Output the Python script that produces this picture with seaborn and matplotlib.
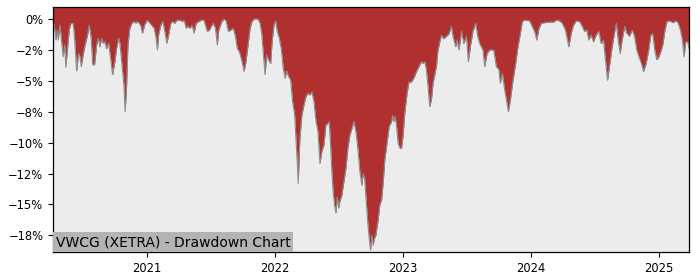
import matplotlib
matplotlib.use("Agg")
import matplotlib.pyplot as plt
import matplotlib.dates as mdates
import matplotlib.ticker as mticker
import seaborn as sns
import pandas as pd

# decimal-year time stamps
years = [
    2020.266, 2020.273, 2020.281, 2020.289, 2020.299, 2020.307, 2020.320, 2020.336, 2020.346, 2020.357,
    2020.367, 2020.377, 2020.393, 2020.404, 2020.424, 2020.435, 2020.451, 2020.466, 2020.477, 2020.487,
    2020.502, 2020.518, 2020.534, 2020.549, 2020.565, 2020.576, 2020.591, 2020.607, 2020.620, 2020.633,
    2020.646, 2020.659, 2020.672, 2020.685, 2020.701, 2020.716, 2020.732, 2020.750, 2020.763, 2020.779,
    2020.789, 2020.805, 2020.820, 2020.830, 2020.841, 2020.852, 2020.867, 2020.883, 2020.898, 2020.914,
    2020.924, 2020.940, 2020.951, 2020.966, 2020.982, 2021.002, 2021.023, 2021.039, 2021.055, 2021.070,
    2021.080, 2021.091, 2021.107, 2021.123, 2021.138, 2021.154, 2021.170, 2021.185, 2021.201, 2021.216,
    2021.232, 2021.258, 2021.273, 2021.289, 2021.305, 2021.320, 2021.336, 2021.352, 2021.367, 2021.383,
    2021.404, 2021.424, 2021.445, 2021.455, 2021.471, 2021.487, 2021.502, 2021.518, 2021.534, 2021.549,
    2021.560, 2021.565, 2021.584, 2021.602, 2021.617, 2021.635, 2021.654, 2021.674, 2021.690, 2021.705,
    2021.721, 2021.732, 2021.742, 2021.758, 2021.773, 2021.789, 2021.805, 2021.820, 2021.836, 2021.867,
    2021.883, 2021.896, 2021.909, 2021.922, 2021.935, 2021.948, 2021.966, 2021.977, 2021.992, 2022.005,
    2022.018, 2022.034, 2022.049, 2022.065, 2022.080, 2022.091, 2022.107, 2022.123, 2022.138, 2022.154,
    2022.164, 2022.174, 2022.182, 2022.195, 2022.211, 2022.227, 2022.242, 2022.258, 2022.273, 2022.289,
    2022.305, 2022.320, 2022.336, 2022.352, 2022.367, 2022.383, 2022.398, 2022.414, 2022.424, 2022.435,
    2022.445, 2022.455, 2022.466, 2022.477, 2022.487, 2022.498, 2022.508, 2022.523, 2022.539, 2022.555,
    2022.570, 2022.586, 2022.602, 2022.617, 2022.633, 2022.648, 2022.664, 2022.680, 2022.690, 2022.701,
    2022.716, 2022.727, 2022.737, 2022.748, 2022.758, 2022.768, 2022.779, 2022.789, 2022.805, 2022.820,
    2022.834, 2022.846, 2022.859, 2022.873, 2022.893, 2022.912, 2022.920, 2022.930, 2022.940, 2022.951,
    2022.963, 2022.977, 2022.990, 2023.002, 2023.016, 2023.034, 2023.049, 2023.068, 2023.086, 2023.107,
    2023.127, 2023.146, 2023.159, 2023.172, 2023.185, 2023.198, 2023.211, 2023.224, 2023.237, 2023.263,
    2023.276, 2023.302, 2023.320, 2023.341, 2023.362, 2023.380, 2023.393, 2023.414, 2023.424, 2023.440,
    2023.459, 2023.477, 2023.498, 2023.513, 2023.529, 2023.549, 2023.570, 2023.586, 2023.602, 2023.627,
    2023.641, 2023.659, 2023.680, 2023.711, 2023.732, 2023.752, 2023.763, 2023.779, 2023.797, 2023.815,
    2023.826, 2023.841, 2023.862, 2023.883, 2023.901, 2023.920, 2023.935, 2023.953, 2023.992, 2024.013,
    2024.031, 2024.049, 2024.065, 2024.084, 2024.109, 2024.148, 2024.180, 2024.201, 2024.227, 2024.248,
    2024.273, 2024.299, 2024.318, 2024.336, 2024.357, 2024.383, 2024.404, 2024.422, 2024.440, 2024.455,
    2024.474, 2024.492, 2024.513, 2024.534, 2024.552, 2024.570, 2024.586, 2024.602, 2024.617, 2024.638,
    2024.656, 2024.670, 2024.685, 2024.701, 2024.716, 2024.737, 2024.752, 2024.773, 2024.795, 2024.813,
    2024.830, 2024.852, 2024.867, 2024.883, 2024.904, 2024.924, 2024.940, 2024.955, 2024.971, 2024.987,
    2025.002, 2025.021, 2025.034, 2025.047, 2025.065, 2025.086, 2025.112, 2025.133, 2025.151, 2025.170,
    2025.185, 2025.198, 2025.211, 2025.227, 2025.237,
]

# drawdown in percent
drawdown = [
    -0.3, -0.35, -1.0, -1.7, -0.9, -1.7, -0.5, -2.1, -3.05, -2.1,
    -3.9, -2.65, -0.9, -0.4, -0.35, -1.6, -4.2, -2.8, -3.05, -3.85,
    -2.9, -2.05, -1.4, -0.5, -1.55, -3.7, -3.7, -2.1, -1.55, -2.25,
    -1.55, -1.97, -1.85, -2.4, -1.97, -3.2, -4.5, -3.45, -2.4, -1.55,
    -1.97, -3.7, -5.3, -7.5, -5.6, -2.1, -0.75, -0.35, -0.2, -0.35,
    -0.2, -0.35, -0.5, -1.15, -0.5, -0.1, -0.35, -0.55, -0.75, -1.55,
    -2.5, -1.2, -0.5, -0.2, -1.0, -1.97, -1.2, -0.35, -0.2, -0.35,
    -0.1, -0.1, -0.2, -0.1, -0.75, -0.6, -0.75, -0.5, -1.15, -0.35,
    -0.2, -0.1, -0.1, -0.5, -1.0, -0.9, -0.6, -0.35, -0.75, -2.1,
    -0.9, -0.75, -0.2, 0.0, -0.15, -1.0, -0.9, -0.75, -1.4, -2.4,
    -2.65, -3.05, -3.45, -4.25, -3.45, -2.1, -0.75, -0.2, 0.0, 0.0,
    -0.35, -1.2, -2.9, -4.5, -2.9, -3.3, -3.6, -1.85, -0.5, -0.15,
    -1.0, -1.55, -2.4, -4.0, -4.8, -4.2, -4.65, -4.95, -6.7, -7.75,
    -9.65, -11.5, -13.3, -9.65, -7.75, -6.95, -6.3, -6.0, -6.15, -5.9,
    -6.7, -8.2, -9.1, -11.7, -10.7, -10.2, -8.6, -8.45, -8.3, -10.2,
    -12.35, -14.0, -15.05, -15.7, -14.4, -15.3, -14.75, -14.25, -13.15, -12.1,
    -10.45, -9.4, -8.85, -8.3, -9.1, -10.45, -12.35, -13.45, -12.5, -12.9,
    -15.05, -16.65, -17.75, -18.7, -17.5, -18.3, -17.75, -17.5, -16.4, -15.05,
    -14.6, -13.3, -11.4, -10.3, -8.7, -8.3, -7.8, -8.3, -7.9, -8.7,
    -10.05, -10.45, -10.45, -9.5, -7.6, -6.0, -5.1, -5.1, -4.8, -4.25,
    -3.85, -3.45, -3.6, -3.45, -4.1, -5.5, -7.1, -6.55, -5.2, -3.85,
    -2.5, -1.3, -1.6, -1.4, -1.2, -0.6, -1.4, -2.25, -1.7, -2.5,
    -1.0, -2.0, -1.4, -3.45, -2.2, -1.0, -0.35, -1.4, -2.0, -2.5,
    -3.85, -2.8, -2.5, -2.5, -3.85, -4.1, -5.2, -4.4, -5.75, -6.8,
    -7.5, -6.6, -4.95, -3.6, -2.25, -1.15, -0.2, -0.1, -0.15, -0.6,
    -1.0, -1.7, -0.8, -0.35, -0.3, -0.25, -0.25, -0.1, -0.15, -0.35,
    -0.9, -2.25, -1.15, -0.5, -0.15, -0.2, -0.6, -1.0, -0.9, -1.7,
    -1.3, -1.85, -1.3, -1.0, -2.0, -1.7, -3.3, -4.95, -3.85, -2.25,
    -1.15, -0.35, -1.7, -2.8, -1.7, -0.6, -1.15, -1.4, -0.9, -1.4,
    -2.5, -3.2, -3.6, -4.25, -3.6, -2.5, -1.3, -1.2, -2.5, -3.3,
    -3.05, -2.5, -2.0, -1.0, -0.2, -0.15, -0.3, -0.15, -0.3, -0.9,
    -1.7, -3.05, -1.85, -1.85, -2.4,
]

title_text = "VWCG (XETRA) - Drawdown Chart"


def to_date(y):
    base = pd.Timestamp(int(y), 1, 1)
    return base + pd.Timedelta(days=(y - int(y)) * 365.25)


df = pd.DataFrame({"date": [to_date(y) for y in years], "dd": drawdown})

fig = plt.figure(figsize=(7, 2.8), dpi=100)
ax = fig.add_axes([0.0757, 0.1, 0.9086, 0.875])
ax.set_facecolor("#ececec")

y_top, y_bottom = 0.97, -18.85
ax.fill_between(df["date"], df["dd"], y_top, color="#b03030", linewidth=0)
sns.lineplot(data=df, x="date", y="dd", ax=ax, color="#8c8c8c", linewidth=0.8, sort=False)

ax.set_ylim(y_bottom, y_top)
ax.set_xlim(df["date"].iloc[0], df["date"].iloc[-1])
ax.set_xlabel("")
ax.set_ylabel("")

ax.yaxis.set_major_locator(mticker.MultipleLocator(2.5))
ax.yaxis.set_major_formatter(
    mticker.FuncFormatter(lambda v, p: (f"{v:.0f}%").replace("-", "\u2212") if abs(v) > 1e-9 else "0%")
)
ax.xaxis.set_major_locator(mdates.YearLocator())
ax.xaxis.set_major_formatter(mdates.DateFormatter("%Y"))
ax.tick_params(labelsize=8.3, colors="black")

for s in ax.spines.values():
    s.set_color("black")
    s.set_linewidth(0.9)

ax.annotate(title_text, xy=(0, 0), xycoords="axes fraction", xytext=(2, 2),
            textcoords="offset points", ha="left", va="bottom", fontsize=10,
            bbox=dict(facecolor="#b4b4b4", edgecolor="none", pad=2), zorder=5)

fig.savefig("out.png", dpi=100)
